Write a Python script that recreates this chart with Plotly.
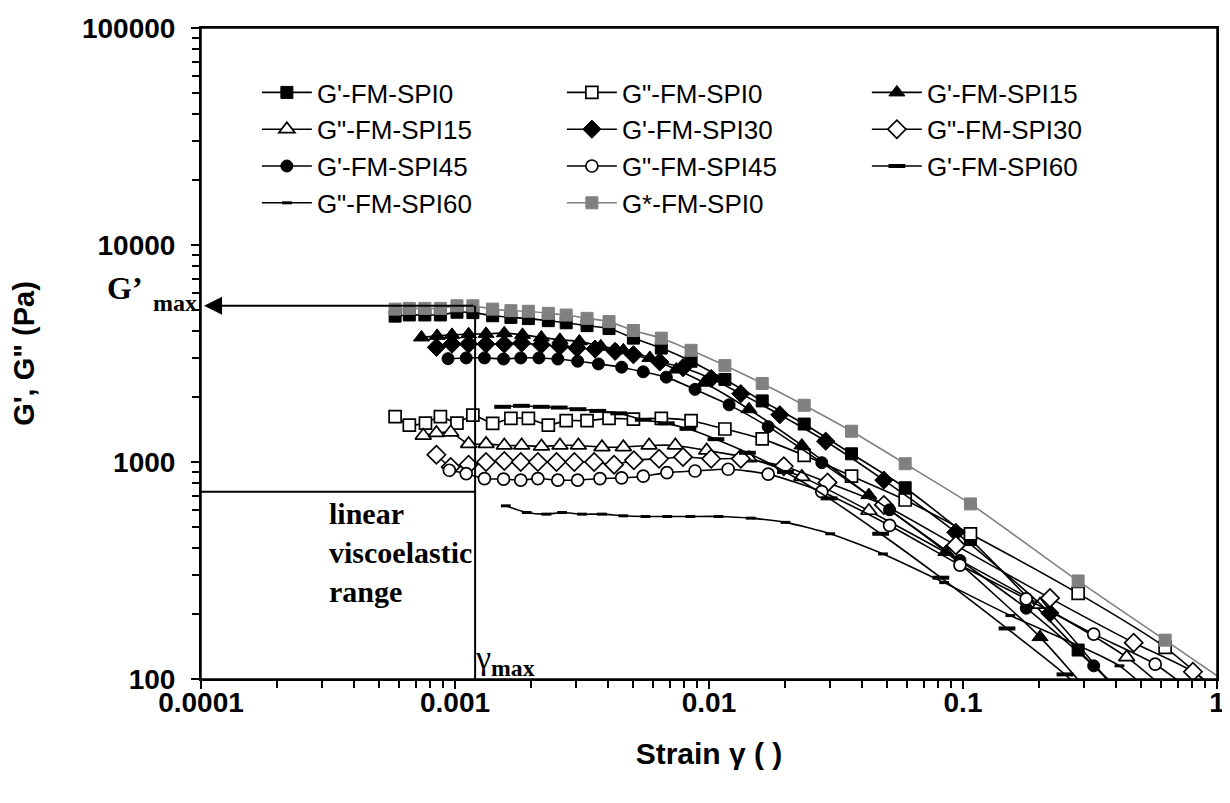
import math
import plotly.graph_objects as go

# ---------------- data ----------------
x_gs0 = [5.81e-4, 6.61e-4, 7.61e-4, 8.76e-4, 1.018e-3, 1.176e-3, 1.407e-3, 1.66e-3, 1.945e-3,
         2.33e-3, 2.74e-3, 3.31e-3, 4.04e-3, 5.04e-3, 6.49e-3, 8.5e-3, 0.01155, 0.0162, 0.0237,
         0.0364, 0.0592, 0.107, 0.284, 0.625, 1.4]
y_gstar0 = [5065, 5104, 5104, 5104, 5248, 5248, 5065, 4980, 4950, 4842, 4756, 4592, 4436, 4036,
            3722, 3271, 2782, 2301, 1826, 1386, 982, 641, 283, 151, 79]

x_g1_0 = [5.81e-4, 6.61e-4, 7.61e-4, 8.76e-4, 1.018e-3, 1.176e-3, 1.407e-3, 1.66e-3, 1.945e-3,
          2.33e-3, 2.74e-3, 3.31e-3, 4.04e-3, 5.04e-3, 6.49e-3, 8.5e-3, 0.01155, 0.0162, 0.0237,
          0.0364, 0.0592, 0.107, 0.284, 0.63]
y_g1_0 = [4700, 4760, 4760, 4760, 4900, 4880, 4720, 4640, 4580, 4480, 4380, 4250, 4120, 3723,
          3350, 2913, 2401, 1912, 1496, 1091, 761, 439, 136, 55]

x_g2_0 = [5.81e-4, 6.61e-4, 7.65e-4, 8.76e-4, 1.018e-3, 1.176e-3, 1.407e-3, 1.66e-3, 1.945e-3,
          2.33e-3, 2.74e-3, 3.31e-3, 4.04e-3, 5.04e-3, 6.49e-3, 8.5e-3, 0.01155, 0.0162, 0.0237,
          0.0364, 0.0592, 0.107, 0.284, 0.625, 1.4]
y_g2_0 = [1617, 1480, 1512, 1617, 1512, 1644, 1507, 1588, 1588, 1480, 1550, 1550, 1588, 1577,
          1588, 1550, 1419, 1278, 1073, 861, 668, 466, 248, 140, 62]

x_g1_15 = [7.38e-4, 8.5e-4, 9.73e-4, 1.131e-3, 1.325e-3, 1.563e-3, 1.844e-3, 2.187e-3, 2.588e-3,
           3.087e-3, 3.75e-3, 4.6e-3, 5.85e-3, 7.43e-3, 9.58e-3, 0.01437, 0.0232, 0.0426, 0.0856,
           0.201, 0.4]
y_g1_15 = [3750, 3813, 3854, 3882, 3895, 3923, 3854, 3750, 3656, 3595, 3411, 3270, 3017, 2667,
           2319, 1751, 1192, 704, 385, 156, 62]

x_g2_15 = [7.5e-4, 8.45e-4, 9.62e-4, 1.131e-3, 1.325e-3, 1.563e-3, 1.83e-3, 2.19e-3, 2.59e-3,
           3.06e-3, 3.79e-3, 4.6e-3, 5.81e-3, 7.37e-3, 9.79e-3, 0.01436, 0.0232, 0.0426, 0.201,
           0.441, 0.9]
y_g2_15 = [1324, 1361, 1370, 1212, 1212, 1192, 1192, 1180, 1192, 1192, 1171, 1171, 1192, 1192,
           1131, 1043, 854, 596, 220, 126, 62]

x_g1_30 = [8.45e-4, 9.73e-4, 1.131e-3, 1.325e-3, 1.563e-3, 1.83e-3, 2.187e-3, 2.588e-3, 3.02e-3,
           3.56e-3, 4.27e-3, 5.04e-3, 6.4e-3, 7.9e-3, 0.0102, 0.01334, 0.019, 0.0288, 0.0488,
           0.0937, 0.22, 0.45]
y_g1_30 = [3375, 3494, 3494, 3494, 3494, 3532, 3468, 3411, 3350, 3315, 3236, 3120, 2891, 2720,
           2426, 2065, 1651, 1247, 825, 474, 201, 75]

x_g2_30 = [8.45e-4, 9.62e-4, 1.131e-3, 1.325e-3, 1.563e-3, 1.815e-3, 2.12e-3, 2.51e-3, 2.95e-3,
           3.53e-3, 4.23e-3, 5.06e-3, 6.36e-3, 7.9e-3, 0.0102, 0.01334, 0.0197, 0.0293, 0.0488,
           0.0937, 0.22, 0.47, 0.804, 1.5]
y_g2_30 = [1080, 949, 972, 1000, 1011, 1000, 1000, 1000, 1000, 1000, 972, 1018, 1035, 1054,
           1035, 1035, 956, 805, 634, 413, 236, 147, 108, 60]

x_g1_45 = [9.39e-4, 1.107e-3, 1.306e-3, 1.553e-3, 1.815e-3, 2.14e-3, 2.54e-3, 3.04e-3, 3.67e-3,
           4.53e-3, 5.51e-3, 6.79e-3, 8.81e-3, 0.012, 0.0171, 0.0278, 0.0514, 0.0973, 0.1774,
           0.327, 0.55]
y_g1_45 = [2993, 3017, 3017, 2983, 3017, 3017, 2983, 2913, 2831, 2735, 2603, 2461, 2161, 1834,
           1455, 993, 602, 352, 212, 115, 62]

x_g2_45 = [9.5e-4, 1.107e-3, 1.306e-3, 1.553e-3, 1.815e-3, 2.12e-3, 2.54e-3, 3.04e-3, 3.72e-3,
           4.53e-3, 5.51e-3, 6.83e-3, 8.81e-3, 0.0119, 0.0171, 0.0278, 0.0514, 0.0973, 0.1774,
           0.327, 0.571, 1.1]
y_g2_45 = [916, 884, 839, 834, 825, 839, 825, 825, 839, 845, 860, 893, 909, 926, 879, 730, 510,
           335, 234, 161, 117, 65]

x_g1_60 = [1.54e-3, 1.827e-3, 2.187e-3, 2.57e-3, 3.05e-3, 3.65e-3, 4.41e-3, 5.51e-3, 6.79e-3,
           8.26e-3, 0.01065, 0.01416, 0.02, 0.0297, 0.0474, 0.0818, 0.149, 0.252, 0.42]
y_g1_60 = [1796, 1815, 1796, 1782, 1751, 1720, 1676, 1566, 1507, 1422, 1274, 1103, 900, 680,
           467, 293, 171, 105, 58]

x_g2_60 = [1.585e-3, 1.916e-3, 2.29e-3, 2.64e-3, 3.16e-3, 3.79e-3, 4.6e-3, 5.62e-3, 6.85e-3,
           8.45e-3, 0.0109, 0.0146, 0.02, 0.030, 0.0484, 0.0843, 0.1536, 0.413, 0.75]
y_g2_60 = [628, 585, 575, 585, 575, 575, 565, 561, 561, 561, 561, 551, 527, 467, 377, 278, 196,
           115, 60]

series_names = ["G'-FM-SPI0", 'G"-FM-SPI0', "G'-FM-SPI15", 'G"-FM-SPI15', "G'-FM-SPI30",
                'G"-FM-SPI30', "G'-FM-SPI45", 'G"-FM-SPI45', "G'-FM-SPI60", 'G"-FM-SPI60',
                "G*-FM-SPI0"]

x_tickvals = [0.0001, 0.001, 0.01, 0.1, 1]
x_ticktext = ["0.0001", "0.001", "0.01", "0.1", "1"]
y_tickvals = [100, 1000, 10000, 100000]
y_ticktext = ["100", "1000", "10000", "100000"]

GAMMA_MAX = 1.2e-3      # strain limit of linear viscoelastic range
G_MAX = 5250            # G'max level
LVR_LEVEL = 730         # horizontal boundary line of the LVR box
X_MIN, X_MAX = 1e-4, 1.0
Y_MIN, Y_MAX = 100, 100000

# ---------------- figure ----------------
BLACK = "#000000"
GRAY = "#808080"

fig = go.Figure()

styles = [
    (x_g1_0, y_g1_0, dict(symbol="square", size=12, color=BLACK, line=dict(color=BLACK, width=1)), BLACK),
    (x_g2_0, y_g2_0, dict(symbol="square", size=12, color="white", line=dict(color=BLACK, width=1.7)), BLACK),
    (x_g1_15, y_g1_15, dict(symbol="triangle-up", size=14, color=BLACK, line=dict(color=BLACK, width=1)), BLACK),
    (x_g2_15, y_g2_15, dict(symbol="triangle-up", size=14, color="white", line=dict(color=BLACK, width=1.7)), BLACK),
    (x_g1_30, y_g1_30, dict(symbol="diamond", size=14, color=BLACK, line=dict(color=BLACK, width=1)), BLACK),
    (x_g2_30, y_g2_30, dict(symbol="diamond", size=14, color="white", line=dict(color=BLACK, width=1.7)), BLACK),
    (x_g1_45, y_g1_45, dict(symbol="circle", size=12, color=BLACK, line=dict(color=BLACK, width=1)), BLACK),
    (x_g2_45, y_g2_45, dict(symbol="circle", size=12, color="white", line=dict(color=BLACK, width=1.7)), BLACK),
    (x_g1_60, y_g1_60, dict(symbol="line-ew", size=12, color=BLACK, line=dict(color=BLACK, width=4)), BLACK),
    (x_g2_60, y_g2_60, dict(symbol="line-ew", size=7, color=BLACK, line=dict(color=BLACK, width=3)), BLACK),
    (x_gs0, y_gstar0, dict(symbol="square", size=12, color=GRAY, line=dict(color=GRAY, width=1)), GRAY),
]

for name, (xs, ys, mk, lc) in zip(series_names, styles):
    fig.add_trace(go.Scatter(
        x=xs, y=ys, name=name, mode="lines+markers",
        line=dict(color=lc, width=1.6, shape="spline", smoothing=0.6),
        marker=mk, cliponaxis=True,
    ))

serif = "Liberation Serif, Times New Roman, serif"
sans = "Liberation Sans, Arial, sans-serif"

# plot-area frame
fig.add_shape(type="rect", xref="paper", yref="paper", x0=0, x1=1, y0=0, y1=1,
              line=dict(color=BLACK, width=1.5), layer="above")

# reference lines (arrow, gamma_max, LVR boundary)
fig.add_shape(type="line", xref="x", yref="y", x0=GAMMA_MAX, x1=GAMMA_MAX, y0=Y_MIN, y1=G_MAX,
              line=dict(color=BLACK, width=2))
fig.add_shape(type="line", xref="x", yref="y", x0=X_MIN, x1=GAMMA_MAX, y0=LVR_LEVEL, y1=LVR_LEVEL,
              line=dict(color=BLACK, width=2))
fig.add_annotation(x=math.log10(X_MIN) + 0.012, y=math.log10(G_MAX), xref="x", yref="y",
                   ax=math.log10(GAMMA_MAX), ay=math.log10(G_MAX), axref="x", ayref="y",
                   showarrow=True, arrowhead=2, arrowsize=1.8, arrowwidth=2, arrowcolor=BLACK, text="")

# G'max label (outside the plot, left of the axis)
fig.add_annotation(x=0, xref="paper", y=math.log10(G_MAX), yref="y", xanchor="right", yanchor="middle",
                   xshift=-56, yshift=18, showarrow=False,
                   text="<b>G’</b>", font=dict(family=serif, size=32, color=BLACK))
fig.add_annotation(x=0, xref="paper", y=math.log10(G_MAX), yref="y", xanchor="right", yanchor="middle",
                   xshift=-2, yshift=3, showarrow=False,
                   text="<b>max</b>", font=dict(family=serif, size=24, color=BLACK))

fig.add_annotation(x=math.log10(3.13e-4), y=math.log10(LVR_LEVEL), xref="x", yref="y",
                   xanchor="left", yanchor="top", align="left", yshift=-3, showarrow=False,
                   text="<b>linear<br>viscoelastic<br>range</b>",
                   font=dict(family=serif, size=30, color=BLACK))
fig.add_annotation(x=math.log10(GAMMA_MAX), y=math.log10(Y_MIN), xref="x", yref="y",
                   xanchor="left", yanchor="bottom", xshift=-2, yshift=-4, showarrow=False,
                   text="γ<sub><b>max</b></sub>", font=dict(family=serif, size=34, color=BLACK))

minor_x = [m * 10 ** e for e in range(-4, 0) for m in range(2, 10)]
minor_y = [m * 10 ** e for e in range(2, 5) for m in range(2, 10)]

fig.update_xaxes(
    type="log", range=[math.log10(X_MIN), math.log10(X_MAX)],
    tickvals=x_tickvals, ticktext=x_ticktext, ticks="outside", ticklen=8, tickwidth=2, tickcolor=BLACK,
    minor=dict(tickvals=minor_x, ticks="outside", ticklen=7, tickwidth=2, tickcolor=BLACK, showgrid=False),
    showline=True, linecolor=BLACK, linewidth=2, mirror=True, showgrid=False, zeroline=False,
    tickfont=dict(family=sans, size=28, color=BLACK, weight="bold"),
    ticklabelstandoff=-11, ticklabeloverflow="allow",
    title=dict(text="<b>Strain γ ( )</b>", font=dict(family=sans, size=30, color=BLACK), standoff=26),
)
fig.update_yaxes(
    type="log", range=[math.log10(Y_MIN), math.log10(Y_MAX)],
    tickvals=y_tickvals, ticktext=y_ticktext, ticks="outside", ticklen=8, tickwidth=2, tickcolor=BLACK,
    minor=dict(tickvals=minor_y, ticks="outside", ticklen=7, tickwidth=2, tickcolor=BLACK, showgrid=False),
    showline=True, linecolor=BLACK, linewidth=2, mirror=True, showgrid=False, zeroline=False,
    tickfont=dict(family=sans, size=28, color=BLACK, weight="bold"),
    ticklabelstandoff=10, ticklabeloverflow="allow",
    title=dict(text="<b>G', G\" (Pa)</b>", font=dict(family=sans, size=29, color=BLACK), standoff=46),
)

# the page body adds an 8 px offset, so the figure is 8 px smaller and margins compensate
fig.update_layout(
    width=1222, height=795,
    margin=dict(l=193, r=5, t=14, b=124),
    paper_bgcolor="white", plot_bgcolor="white",
    showlegend=True,
    legend=dict(orientation="h", x=0.055, y=0.937, xanchor="left", yanchor="top",
                entrywidth=240, entrywidthmode="pixels", itemwidth=50,
                font=dict(family=sans, size=26, color=BLACK), bgcolor="rgba(0,0,0,0)"),
)

fig.write_html("out.html")
